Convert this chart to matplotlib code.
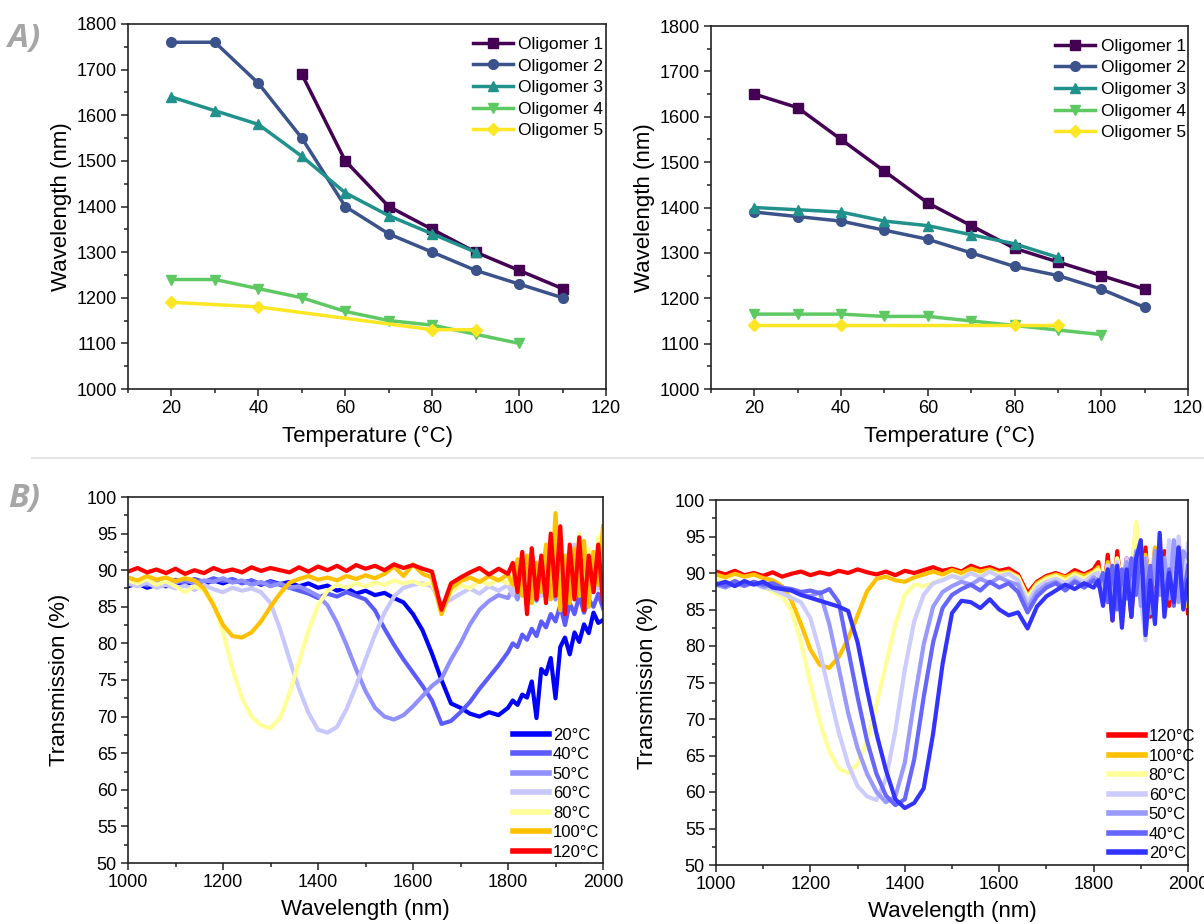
import matplotlib
matplotlib.use("Agg")
import matplotlib.pyplot as plt
from matplotlib.lines import Line2D
from matplotlib.ticker import MultipleLocator

plt.rcParams['font.family'] = ['Liberation Sans', 'DejaVu Sans']

# ---------------- Data: resonance wavelength vs temperature ----------------
temp_full = [20, 30, 40, 50, 60, 70, 80, 90, 100, 110]
oligo_labels = ["Oligomer 1", "Oligomer 2", "Oligomer 3", "Oligomer 4", "Oligomer 5"]

# left panel
a1_t = [50, 60, 70, 80, 90, 100, 110]
a1_w = [1690, 1500, 1400, 1350, 1300, 1260, 1220]
a2_t = temp_full
a2_w = [1760, 1760, 1670, 1550, 1400, 1340, 1300, 1260, 1230, 1200]
a3_t = [20, 30, 40, 50, 60, 70, 80, 90]
a3_w = [1640, 1610, 1580, 1510, 1430, 1380, 1340, 1300]
a4_t = [20, 30, 40, 50, 60, 70, 80, 90, 100]
a4_w = [1240, 1240, 1220, 1200, 1170, 1150, 1140, 1120, 1100]
a5_t = [20, 40, 80, 90]
a5_w = [1190, 1180, 1130, 1130]

# right panel
b1_t = temp_full
b1_w = [1650, 1620, 1550, 1480, 1410, 1360, 1310, 1280, 1250, 1220]
b2_t = temp_full
b2_w = [1390, 1380, 1370, 1350, 1330, 1300, 1270, 1250, 1220, 1180]
b3_t = [20, 30, 40, 50, 60, 70, 80, 90]
b3_w = [1400, 1395, 1390, 1370, 1360, 1340, 1320, 1290]
b4_t = [20, 30, 40, 50, 60, 70, 80, 90, 100]
b4_w = [1165, 1165, 1165, 1160, 1160, 1150, 1140, 1130, 1120]
b5_t = [20, 40, 80, 90]
b5_w = [1140, 1140, 1140, 1140]

# ---------------- Data: transmission spectra ----------------
# 20 nm sampling up to 1780 nm, 10 nm sampling over the noisy 1800-2000 nm tail
wl = list(range(1000, 1800, 20)) + list(range(1800, 2001, 10))

# left film
L20 = [87.8, 88.2, 87.6, 88.0, 87.8, 88.4, 88.0, 88.5, 88.1, 88.6, 88.2, 88.7, 88.3, 88.6, 88.0, 88.5, 88.1,
       88.4, 87.8, 88.2, 87.6, 87.9, 87.2, 87.6, 86.8, 87.2, 86.6, 86.9, 86.2, 85.6, 84.0, 81.8, 78.6, 75.0,
       71.8, 71.2, 70.4, 70.0, 70.6, 70.2,
       71.2, 72.2, 71.6, 73.0, 72.6, 74.8, 69.8, 76.5, 75.8, 78.0, 72.5, 79.5, 80.8, 78.5, 81.5, 80.2,
       82.6, 81.4, 84.2, 82.8, 83.2]
L40 = [88.0, 88.4, 87.9, 88.6, 88.2, 88.7, 88.3, 88.8, 88.4, 88.9, 88.5, 88.8, 88.2, 88.6, 88.1, 88.4, 88.0,
       87.6, 87.2, 86.8, 86.2, 86.8, 86.4, 87.0, 86.5, 86.0, 84.5, 82.0, 79.8, 77.8, 76.0, 74.2, 72.2, 69.0,
       69.4, 70.6, 72.0, 73.8, 75.4, 77.0,
       78.8, 80.0, 79.5, 81.2, 80.5, 82.0, 81.0, 83.0, 82.2, 84.0, 83.0, 85.2, 82.5, 85.5, 84.0, 86.5,
       84.2, 86.0, 85.0, 86.8, 84.8]
L50 = [88.5, 88.0, 88.6, 88.2, 88.8, 88.3, 88.7, 88.2, 88.6, 88.4, 88.9, 88.3, 88.6, 88.0, 88.4, 87.8, 88.2,
       87.6, 87.8, 87.2, 86.5, 85.2, 82.8, 79.8, 76.5, 73.5, 71.2, 70.0, 69.6, 70.2, 71.4, 72.8, 74.2, 75.2,
       77.8, 80.0, 82.6, 84.6, 85.8, 86.6,
       86.2, 87.4, 86.0, 88.2, 86.4, 88.6, 85.8, 88.0, 86.6, 89.0, 86.0, 88.4, 85.5, 89.5, 86.8, 90.5,
       86.0, 89.2, 87.0, 90.0, 87.5]
L60 = [88.2, 87.8, 88.3, 87.6, 88.0, 87.5, 87.9, 87.3, 88.0, 87.4, 87.0, 87.6, 87.2, 87.5, 87.0, 85.5, 82.0,
       77.8, 73.8, 70.5, 68.2, 67.8, 68.6, 71.0, 74.2, 77.8, 81.2, 84.2, 86.4, 87.6, 88.0, 88.2, 87.8, 85.2,
       86.0, 86.8, 87.5, 86.8, 87.8, 87.2,
       88.0, 86.6, 89.5, 86.8, 90.2, 87.0, 91.0, 86.5, 89.8, 88.0, 92.0, 87.0, 90.5, 88.5, 93.5, 87.5,
       91.0, 88.0, 92.5, 87.5, 90.0]
L80 = [88.6, 88.2, 88.8, 88.0, 88.5, 87.8, 87.0, 87.8, 87.2, 85.5, 81.5, 76.5, 72.5, 70.0, 68.8, 68.4, 69.8,
       73.2, 77.5, 81.8, 85.2, 87.2, 88.0, 87.6, 88.2, 87.8, 88.3, 88.0, 88.6, 88.2, 88.5, 88.0, 88.3, 84.8,
       87.0, 88.0, 87.5, 88.6, 88.0, 88.8,
       88.2, 89.2, 87.0, 90.5, 86.8, 91.0, 87.5, 90.0, 88.0, 92.5, 87.0, 91.5, 86.5, 92.5, 88.0, 95.0,
       87.5, 93.0, 88.5, 94.5, 89.0]
L100 = [89.0, 88.6, 89.2, 88.7, 89.0, 88.5, 88.9, 88.6, 87.5, 85.2, 82.5, 81.0, 80.8, 81.5, 83.0, 85.0, 86.8,
        88.3, 88.8, 89.2, 88.7, 89.0, 88.6, 89.2, 88.8, 89.3, 88.9, 89.5, 90.5, 89.2, 90.8, 89.5, 89.0, 84.0,
        87.5, 88.5, 89.0, 88.4, 89.2, 88.6,
        89.4, 88.0, 91.5, 86.5, 92.0, 85.5, 91.0, 87.0, 93.5, 86.0, 97.8, 84.5, 92.0, 85.5, 93.0, 86.5,
        94.0, 85.0, 92.5, 88.0, 96.0]
L120 = [89.8, 90.3, 89.7, 90.1, 89.6, 90.2, 89.5, 90.0, 89.6, 90.3, 89.8, 90.1, 89.7, 90.4, 89.9, 90.3, 90.0,
        89.7, 90.4, 89.8, 90.5, 90.0, 90.6, 89.9, 90.7, 90.2, 90.6, 90.0, 90.8, 90.3, 90.7, 90.2, 89.8, 84.6,
        88.2, 89.0, 89.7, 90.3, 89.4, 90.2,
        89.5, 91.0, 87.0, 92.5, 84.0, 93.0, 86.0, 92.0, 85.5, 95.0, 86.5, 96.0, 84.0, 93.5, 86.0, 94.5,
        84.5, 92.0, 87.0, 93.5, 85.5]

# right film
R20 = [88.4, 88.8, 88.2, 88.9, 88.4, 88.8, 88.0, 87.8, 87.6, 87.0, 86.6, 86.2, 85.8, 85.4, 84.8, 80.5, 74.0,
       68.0, 63.0, 59.0, 57.8, 58.5, 60.5, 68.0, 77.5, 84.5, 86.2, 86.0, 85.2, 86.4, 85.0, 84.2, 84.6, 82.4,
       85.4, 86.8, 87.6, 88.4, 87.8, 88.6,
       88.0, 89.0, 85.5, 90.5, 83.5, 91.0, 82.5, 90.5, 84.0, 92.0, 94.5, 81.5, 89.0, 83.0, 95.5, 84.0,
       90.0, 86.0, 93.5, 85.0, 89.0]
R40 = [88.6, 88.2, 88.9, 88.3, 88.8, 88.4, 88.6, 88.0, 87.8, 87.4, 87.6, 87.2, 87.8, 86.0, 79.5, 73.0, 67.0,
       62.5, 59.5, 58.2, 59.0, 64.5, 73.0, 80.5, 85.2, 87.0, 87.8, 88.4, 87.6, 88.8, 88.0, 88.6, 87.4, 84.6,
       86.8, 88.0, 88.6, 87.6, 88.8, 88.0,
       89.0, 88.2, 90.0, 86.0, 91.0, 85.0, 90.5, 86.5, 92.0, 87.0, 93.0, 85.5, 91.0, 84.0, 92.0, 86.0,
       90.5, 85.5, 93.5, 86.0, 91.0]
R50 = [88.4, 88.0, 88.6, 88.2, 88.7, 88.1, 88.4, 87.8, 87.6, 87.0, 86.8, 87.4, 83.0, 77.0, 70.8, 66.0, 62.5,
       60.0, 58.6, 59.4, 64.0, 72.5, 80.2, 85.4, 87.4, 88.2, 88.8, 88.4, 89.2, 88.6, 89.4, 88.8, 88.4, 85.2,
       87.4, 88.4, 88.8, 88.0, 89.0, 88.2,
       89.4, 89.0, 86.5, 90.5, 87.0, 91.0, 86.0, 91.5, 87.5, 93.0, 85.5, 92.0, 84.5, 93.0, 87.0, 92.0,
       86.5, 94.5, 86.0, 93.0, 92.0]
R60 = [88.6, 88.2, 88.8, 88.3, 88.6, 88.0, 87.8, 87.2, 86.6, 86.0, 83.8, 79.2, 73.6, 68.2, 63.8, 60.8, 59.4,
       58.9, 61.8, 68.4, 76.8, 83.4, 87.0, 88.6, 89.0, 89.6, 89.2, 90.0, 89.4, 90.2, 89.5, 89.9, 89.0, 86.0,
       88.0, 88.8, 89.2, 88.6, 89.4, 88.8,
       89.8, 90.0, 87.5, 91.0, 88.0, 91.5, 87.0, 92.0, 88.0, 92.5, 86.5, 80.8, 90.0, 88.5, 92.0, 87.0,
       94.5, 86.5, 95.0, 88.0, 94.0]
R80 = [89.2, 88.6, 89.0, 88.4, 88.8, 88.2, 87.4, 86.8, 84.8, 80.5, 74.8, 69.6, 65.6, 63.2, 62.6, 63.8, 67.0,
       72.0, 77.5, 83.0, 87.0, 88.4, 88.2, 88.6, 89.2, 89.6, 89.4, 90.0, 89.6, 90.2, 89.8, 90.0, 89.4, 86.6,
       88.4, 89.2, 89.6, 89.0, 89.8, 89.2,
       90.0, 90.5, 88.0, 91.0, 87.5, 92.0, 88.5, 90.5, 89.0, 97.0, 88.0, 92.0, 87.5, 92.5, 88.0, 91.5,
       88.5, 93.0, 87.0, 91.0, 86.0]
R100 = [89.8, 89.4, 89.9, 89.5, 89.8, 89.3, 89.0, 88.2, 86.2, 83.0, 79.5, 77.4, 77.0, 78.5, 81.0, 84.2, 87.5,
        89.2, 89.5, 89.0, 88.8, 89.4, 89.8, 90.2, 89.8, 90.4, 90.0, 90.6, 90.2, 90.5, 90.0, 90.2, 89.5, 86.8,
        88.6, 89.4, 89.8, 89.4, 90.0, 89.6,
        90.2, 90.8, 88.0, 91.5, 87.0, 92.0, 88.5, 91.0, 89.0, 96.5, 88.5, 92.5, 87.5, 93.5, 87.0, 92.0,
        88.0, 93.0, 89.0, 92.5, 85.5]
R120 = [90.2, 89.8, 90.3, 89.7, 90.0, 89.6, 90.1, 89.5, 89.9, 90.2, 89.7, 90.1, 89.8, 90.3, 90.0, 90.5, 90.1,
        89.8, 90.2, 89.7, 90.3, 90.0, 90.4, 90.8, 90.3, 90.6, 90.2, 91.0, 90.5, 90.8, 90.3, 90.6, 89.8, 87.2,
        88.8, 89.6, 90.0, 89.5, 90.4, 89.8,
        90.5, 91.5, 86.0, 92.5, 83.5, 93.0, 87.0, 92.0, 84.0, 94.0, 86.5, 93.5, 84.0, 92.0, 87.0, 93.0,
        85.5, 92.5, 87.0, 91.5, 84.5]

temp_labels = ["20°C", "40°C", "50°C", "60°C", "80°C", "100°C", "120°C"]

# ---------------- Styling ----------------
oligo_colors = ["#440154", "#3b528b", "#21918c", "#5ec962", "#fde725"]
oligo_markers = ["s", "o", "^", "v", "D"]
left_spec_colors = ["#0000ff", "#5b5bff", "#8f8fff", "#c8c8ff", "#ffff99", "#ffc000", "#ff0000"]
right_spec_colors = ["#3333ff", "#6666ff", "#9999ff", "#ccccff", "#ffff99", "#ffc000", "#ff0000"]

TICK_FS = 13
LABEL_FS = 16

W, H = 1204, 924
fig = plt.figure(figsize=(W / 100, H / 100), dpi=100)


def box(x0, y0, x1, y1):
    return [x0 / W, 1 - y1 / H, (x1 - x0) / W, (y1 - y0) / H]


def style_axes(ax):
    for sp in ax.spines.values():
        sp.set_linewidth(1.2)
        sp.set_color("#222222")
    ax.tick_params(which="both", direction="out", top=False, right=False,
                   labelsize=TICK_FS, width=1.1, colors="#222222", labelcolor="black")
    ax.tick_params(which="major", length=5, pad=3)
    ax.tick_params(which="minor", length=3)


def temp_panel(ax, series, legend_x):
    for (t, w), lab, c, m in zip(series, oligo_labels, oligo_colors, oligo_markers):
        ms = {"s": 6.5, "o": 7, "^": 7, "v": 7, "D": 6}[m]
        ax.plot(t, w, color=c, lw=2.5, marker=m, ms=ms, label=lab, zorder=3)
    ax.set_xlim(10, 120)
    ax.set_ylim(1000, 1800)
    ax.xaxis.set_major_locator(MultipleLocator(20))
    ax.xaxis.set_minor_locator(MultipleLocator(10))
    ax.yaxis.set_major_locator(MultipleLocator(100))
    ax.yaxis.set_minor_locator(MultipleLocator(50))
    ax.set_xlabel("Temperature (°C)", fontsize=LABEL_FS, labelpad=6)
    ax.set_ylabel("Wavelength (nm)", fontsize=LABEL_FS, labelpad=3)
    style_axes(ax)
    ax.legend(loc="upper left", bbox_to_anchor=(legend_x, 0.965), frameon=False,
              fontsize=12.5, borderpad=0, borderaxespad=0, handlelength=2.3,
              handletextpad=0.3, labelspacing=0.37)


def spec_panel(ax, curves, colors, order):
    for idx in order:
        ax.plot(wl, curves[idx], color=colors[idx], lw=3.0)
    ax.set_xlim(1000, 2000)
    ax.set_ylim(50, 100)
    ax.xaxis.set_major_locator(MultipleLocator(200))
    ax.xaxis.set_minor_locator(MultipleLocator(100))
    ax.yaxis.set_major_locator(MultipleLocator(5))
    ax.yaxis.set_minor_locator(MultipleLocator(2.5))
    ax.set_xlabel("Wavelength (nm)", fontsize=LABEL_FS, labelpad=6)
    ax.set_ylabel("Transmission (%)", fontsize=LABEL_FS, labelpad=12)
    style_axes(ax)


# ---- top row ----
ax_a1 = fig.add_axes(box(128, 24, 606, 389))
temp_panel(ax_a1, [(a1_t, a1_w), (a2_t, a2_w), (a3_t, a3_w), (a4_t, a4_w), (a5_t, a5_w)], 0.722)

ax_a2 = fig.add_axes(box(711, 26, 1188, 389))
temp_panel(ax_a2, [(b1_t, b1_w), (b2_t, b2_w), (b3_t, b3_w), (b4_t, b4_w), (b5_t, b5_w)], 0.722)

# ---- bottom row ----
left_curves = [L20, L40, L50, L60, L80, L100, L120]
right_curves = [R20, R40, R50, R60, R80, R100, R120]

ax_b1 = fig.add_axes(box(128, 497, 603, 863))
spec_panel(ax_b1, left_curves, left_spec_colors, range(7))
h1 = [Line2D([], [], color=c, lw=4) for c in left_spec_colors]
ax_b1.legend(h1, temp_labels, loc="upper left", bbox_to_anchor=(0.81, 0.37), frameon=False,
             fontsize=12, borderpad=0, borderaxespad=0, handlelength=2.2,
             handletextpad=0.2, labelspacing=0.27)

ax_b2 = fig.add_axes(box(716, 500, 1188, 865))
spec_panel(ax_b2, right_curves, right_spec_colors, range(6, -1, -1))
h2 = [Line2D([], [], color=c, lw=4) for c in right_spec_colors[::-1]]
ax_b2.legend(h2, temp_labels[::-1], loc="upper left", bbox_to_anchor=(0.832, 0.372), frameon=False,
             fontsize=12, borderpad=0, borderaxespad=0, handlelength=2.2,
             handletextpad=0.2, labelspacing=0.27)

# ---- panel letters and divider ----
letter_kw = dict(fontsize=24, fontweight="bold", fontstyle="italic", color="#a6a6a6",
                 family=["Open Sans", "Liberation Sans", "DejaVu Sans"], va="center", ha="left")
fig.text(8 / W, 1 - 38 / H, "A)", **letter_kw)
fig.text(8 / W, 1 - 499 / H, "B)", **letter_kw)
fig.add_artist(Line2D([32 / W, 1.0], [1 - 458 / H, 1 - 458 / H], color="#dedede", lw=1.2))

fig.savefig("out.png", dpi=100)
